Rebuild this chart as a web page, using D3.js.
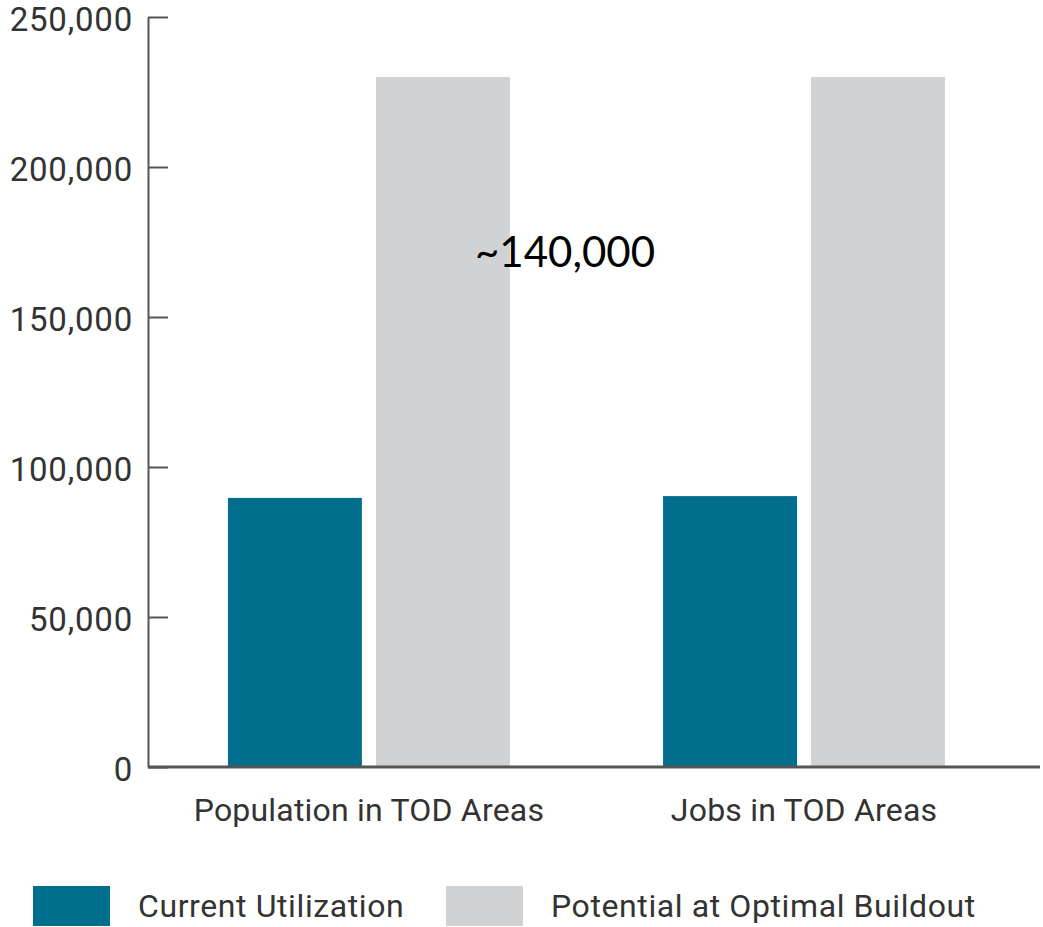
<!DOCTYPE html>
<html>
<head>
<script src="https://d3js.org/d3.v7.min.js"></script>
<style>
  body { margin: 0; background: #fff; }
</style>
</head>
<body>
<script>
const W = 1043, H = 927
const categories = ["Population in TOD Areas", "Jobs in TOD Areas"]
const seriesNames = ["Current Utilization", "Potential at Optimal Buildout"]
const currentValues = [89700, 90300]
const potentialValues = [230000, 230000]
const yTicks = [0, 50000, 100000, 150000, 200000, 250000]
const annotation = "~140,000"
const colors = ["#006e8c", "#d1d2d4"]
const font = "Roboto, 'DejaVu Sans', sans-serif"

const svg = d3.select("body").append("svg").attr("width", W).attr("height", H)

const x0 = 148, x1 = 1040, yTop = 17, yBot = 767
const x = d3.scaleBand().domain(categories).range([x0, x1])
  .paddingInner(0.352).paddingOuter(0.201).align(0.457)
const xs = d3.scaleBand().domain(seriesNames).range([0, x.bandwidth()]).paddingInner(0.095)
const y = d3.scaleLinear().domain([0, 250000]).range([yBot, yTop])

const rows = categories.map((c, i) => ({ cat: c, vals: [currentValues[i], potentialValues[i]] }))

// bars
svg.selectAll("g.grp").data(rows).enter().append("g")
  .attr("class", "grp")
  .attr("transform", d => `translate(${x(d.cat)},0)`)
  .selectAll("rect").data(d => d.vals.map((v, j) => ({ s: seriesNames[j], v, j })))
  .enter().append("rect")
  .attr("x", d => xs(d.s))
  .attr("width", xs.bandwidth())
  .attr("y", d => y(d.v))
  .attr("height", d => y(0) - y(d.v))
  .attr("fill", d => colors[d.j])

// y axis
const yAxis = svg.append("g").attr("transform", `translate(${x0},0)`)
  .call(d3.axisLeft(y).tickValues(yTicks).tickFormat(d3.format(",")).tickSizeInner(-20).tickSizeOuter(0).tickPadding(15))
yAxis.select(".domain").attr("stroke", "#555").attr("stroke-width", 2)
yAxis.selectAll(".tick line").attr("stroke", "#555").attr("stroke-width", 2)
yAxis.selectAll(".tick text").attr("font-family", font).attr("font-size", 33)
  .attr("dy", "0.4em").attr("letter-spacing", 0.8).attr("fill", "#333")

// x axis
const xAxis = svg.append("g").attr("transform", `translate(0,${yBot})`)
  .call(d3.axisBottom(x).tickSize(0).tickPadding(31))
xAxis.select(".domain").attr("stroke", "#555").attr("stroke-width", 3).attr("d", `M${x0},0H${x1}`)
xAxis.selectAll(".tick text").attr("font-family", font).attr("font-size", 32)
  .attr("letter-spacing", 0.2).attr("fill", "#333")

// annotation
svg.append("text").attr("x", 475).attr("y", 267)
  .attr("font-family", "Lato, 'Open Sans', sans-serif").attr("font-size", 42).attr("fill", "#000")
  .text(annotation)

// legend
const legendX = [33, 446]
const lg = svg.selectAll("g.leg").data(seriesNames).enter().append("g")
  .attr("class", "leg").attr("transform", (d, i) => `translate(${legendX[i]},886)`)
lg.append("rect").attr("width", 77).attr("height", 40).attr("fill", (d, i) => colors[i])
lg.append("text").attr("x", 105).attr("y", 31)
  .attr("font-family", font).attr("font-size", 32).attr("letter-spacing", 0.6).attr("fill", "#333")
  .text(d => d)
</script>
</body>
</html>
